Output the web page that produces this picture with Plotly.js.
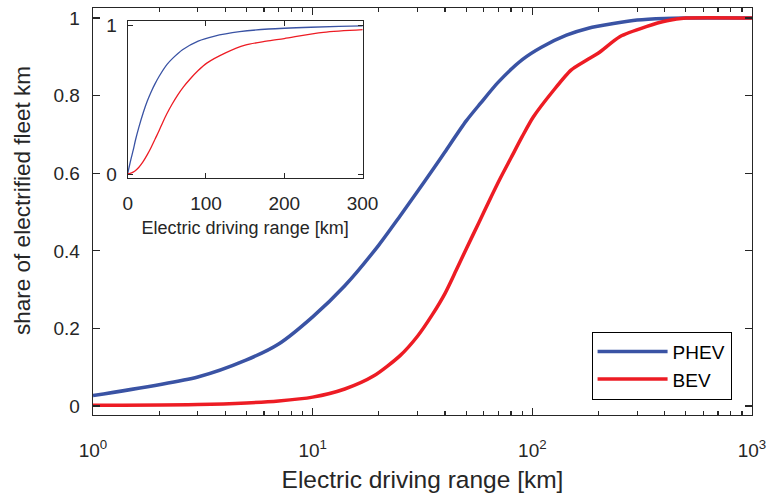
<!DOCTYPE html>
<html>
<head>
<meta charset="utf-8">
<script src="https://cdn.plot.ly/plotly-3.0.1.min.js"></script>
<style>html,body{margin:0;padding:0;background:#fff;}</style>
</head>
<body>
<div id="chart" style="width:769px;height:498px;"></div>
<script>
// Electric driving range [km]
const phevX = [1, 3, 5, 7, 10, 14, 20, 25, 30, 35, 40, 50, 58, 70, 90, 110, 143, 180, 234, 300, 400, 500, 700, 1000];
const phevY = [0.027, 0.075, 0.119, 0.16, 0.23, 0.31, 0.415, 0.49, 0.553, 0.607, 0.655, 0.735, 0.78, 0.835, 0.893, 0.925, 0.956, 0.974, 0.986, 0.995, 0.999, 1.0, 1.0, 1.0];
const bevX = [1, 3, 5, 7, 10, 14, 19, 25, 30, 35, 40, 45, 50, 57, 64, 71, 80, 90, 101, 125, 150, 177, 200, 250, 330, 410, 500, 1000];
const bevY = [0.002, 0.004, 0.008, 0.013, 0.023, 0.044, 0.078, 0.13, 0.18, 0.235, 0.29, 0.35, 0.405, 0.472, 0.532, 0.584, 0.64, 0.695, 0.745, 0.814, 0.866, 0.892, 0.91, 0.952, 0.978, 0.993, 1.0, 1.0];
// inset starts from the origin
const insetStartX = [0];
const insetStartY = [0];

const mainXTicks = [1, 10, 100, 1000];
const mainXText = ['10<sup>0</sup>', '10<sup>1</sup>', '10<sup>2</sup>', '10<sup>3</sup>'];
const mainYTicks = [0, 0.2, 0.4, 0.6, 0.8, 1];
const mainYText = ['0', '0.2', '0.4', '0.6', '0.8', '1'];
const insetXTicks = [0, 100, 200, 300];
const insetYTicks = [0, 1];
const yTitle = 'share of electrified fleet km';
const xTitle = 'Electric driving range [km]';

const minorX = [];
[1, 10, 100].forEach(d => { for (let k = 2; k <= 9; k++) minorX.push(k * d); });

const BLUE = '#3a53a4';
const RED = '#ed1c24';
const AX = '#262626';
const FONT = 'Liberation Sans, Arial, sans-serif';

const traces = [
  {x: phevX, y: phevY, type: 'scatter', mode: 'lines', name: 'PHEV',
   line: {color: BLUE, width: 3.5, shape: 'spline', smoothing: 0.7}, xaxis: 'x', yaxis: 'y'},
  {x: bevX, y: bevY, type: 'scatter', mode: 'lines', name: 'BEV',
   line: {color: RED, width: 3.5, shape: 'spline', smoothing: 0.7}, xaxis: 'x', yaxis: 'y'},
  {x: insetStartX.concat(phevX), y: insetStartY.concat(phevY), type: 'scatter', mode: 'lines',
   showlegend: false, line: {color: BLUE, width: 1.3, shape: 'spline', smoothing: 0.8}, xaxis: 'x2', yaxis: 'y2'},
  {x: insetStartX.concat(bevX), y: insetStartY.concat(bevY), type: 'scatter', mode: 'lines',
   showlegend: false, line: {color: RED, width: 1.3, shape: 'spline', smoothing: 0.8}, xaxis: 'x2', yaxis: 'y2'}
];

const layout = {
  width: 769, height: 498,
  margin: {l: 93, r: 17, t: 8, b: 83},
  paper_bgcolor: '#fff', plot_bgcolor: '#fff',
  font: {family: FONT, color: AX, size: 19},
  showlegend: true,
  legend: {x: 0.969, y: 0.205, xanchor: 'right', yanchor: 'top',
           bordercolor: '#000', borderwidth: 1, bgcolor: '#fff',
           font: {size: 19, color: '#000'}, itemwidth: 70, tracegroupgap: 0},
  xaxis: {type: 'log', range: [0, 3], tickmode: 'array', tickvals: mainXTicks, ticktext: mainXText,
          ticks: 'inside', ticklen: 7, tickcolor: AX, tickwidth: 1.2,
          showline: true, linecolor: AX, linewidth: 1.4, mirror: 'ticks',
          showgrid: false, zeroline: false, ticklabelstandoff: 18,
          minor: {tickvals: minorX, ticks: 'inside', ticklen: 4, tickcolor: AX, showgrid: false},
          tickfont: {size: 19},
          title: {text: xTitle, font: {size: 24.5, color: AX}, standoff: 10}},
  yaxis: {range: [-0.023, 1.026], tickmode: 'array', tickvals: mainYTicks, ticktext: mainYText,
          ticks: 'inside', ticklen: 7, tickcolor: AX, tickwidth: 1.2,
          showline: true, linecolor: AX, linewidth: 1.4, mirror: 'ticks',
          showgrid: false, zeroline: false, ticklabelstandoff: 8,
          tickfont: {size: 19}},
  xaxis2: {domain: [0.0527, 0.409], anchor: 'y2', range: [0, 300], tickmode: 'array', tickvals: insetXTicks,
           ticks: 'inside', ticklen: 5, tickcolor: AX, showline: true, linecolor: AX, linewidth: 1.2,
           mirror: 'ticks', showgrid: false, zeroline: false, ticklabelstandoff: 8,
           tickfont: {size: 19},
           title: {text: xTitle, font: {size: 18, color: AX}, standoff: 8}},
  yaxis2: {domain: [0.583, 0.967], anchor: 'x2', range: [-0.025, 1.025], tickmode: 'array', tickvals: insetYTicks,
           ticks: 'inside', ticklen: 5, tickcolor: AX, showline: true, linecolor: AX, linewidth: 1.2,
           mirror: 'ticks', showgrid: false, zeroline: false, ticklabelstandoff: 6,
           tickfont: {size: 19}},
  annotations: [{text: yTitle, xref: 'paper', yref: 'paper', x: -0.1062, y: 0.526,
                 xanchor: 'center', yanchor: 'middle', textangle: -90, showarrow: false,
                 font: {size: 22.5, color: AX}}],
  shapes: [{type: 'rect', xref: 'x2 domain', yref: 'y2 domain', x0: 0, x1: 1, y0: 0, y1: 1,
            fillcolor: '#fff', line: {width: 0}, layer: 'below'}]
};

Plotly.newPlot('chart', traces, layout, {displayModeBar: false, staticPlot: true});
</script>
</body>
</html>
